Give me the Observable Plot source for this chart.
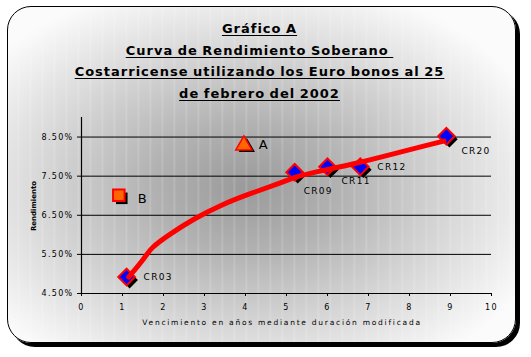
<!DOCTYPE html>
<html>
<head>
<meta charset="utf-8">
<script src="https://cdn.jsdelivr.net/npm/d3@7"></script>
<script src="https://cdn.jsdelivr.net/npm/@observablehq/plot@0.6"></script>
<style>
  html, body { margin: 0; padding: 0; background: #fff; }
  #wrap { position: relative; width: 531px; height: 357px; overflow: hidden; }
  #frame {
    position: absolute; left: 7px; top: 6px; width: 507px; height: 335px;
    border: 1px solid #000; border-radius: 24px 24px 24px 24px;
    box-shadow: 4px 4px 0 #000;
    background:
      repeating-linear-gradient(90deg, rgba(255,255,255,0) 0px, rgba(255,255,255,0) 9px, rgba(255,255,255,0.18) 10px, rgba(255,255,255,0) 12px),
      radial-gradient(ellipse 62% 64% at 47% 54%, #9a9a9a 0%, #b2b2b2 30%, #dadada 68%, #fbfbfb 100%);
  }
  #title {
    position: absolute; left: -6px; top: 18px; width: 531px; text-align: center;
    font-family: "DejaVu Sans", sans-serif; font-weight: bold; font-size: 13px;
    letter-spacing: 1px; word-spacing: -1px; line-height: 21.5px; color: #000;
  }
  #title span { text-decoration: underline; text-underline-offset: 2px; }
  #xlab {
    position: absolute; left: 0; top: 318px; width: 564px; text-align: center;
    font-family: "DejaVu Sans", sans-serif; font-size: 7.5px; letter-spacing: 1.75px;
  }
  #ylab {
    position: absolute; left: 34px; top: 206px; transform: translate(-50%, -50%) rotate(-90deg);
    font-family: "DejaVu Sans", sans-serif; font-weight: bold; font-size: 7px; white-space: nowrap;
  }
  #chart { position: absolute; left: 0; top: 0; }
</style>
</head>
<body>
<div id="wrap">
  <div id="frame"></div>
  <div id="title">
    <span>Gráfico A</span><br>
    <span>Curva de Rendimiento Soberano&nbsp;</span><br>
    <span>Costarricense utilizando los Euro bonos al 25</span><br>
    <span>de febrero del 2002</span>
  </div>
  <div id="chart"></div>
  <div id="xlab">Vencimiento en años mediante duración modificada</div>
  <div id="ylab">Rendimiento</div>
</div>
<script>
// Bonds (duration, yield %)
const bondNames = ["CR03", "CR09", "CR11", "CR12", "CR20"];
const bondX = [1.1, 5.2, 6.0, 6.8, 8.9];
const bondY = [4.92, 7.6, 7.74, 7.74, 8.52];

// Other points
const otherNames = ["A", "B"];
const otherX = [3.96, 0.91];
const otherY = [8.29, 7.01];

// Fitted curve
const curveX = [1.15, 1.56, 1.68, 2.17, 2.74, 3.39, 4.12, 4.93, 5.26, 5.91, 6.72, 7.54, 8.35, 8.84];
const curveY = [4.92, 5.43, 5.66, 6.03, 6.41, 6.76, 7.06, 7.35, 7.5, 7.65, 7.83, 8.05, 8.27, 8.4];

// Axis ticks
const xTicks = [0, 1, 2, 3, 4, 5, 6, 7, 8, 9, 10];
const yTicks = [4.5, 5.5, 6.5, 7.5, 8.5];

const bonds = bondNames.map((n, i) => ({name: n, x: bondX[i], y: bondY[i]}));
const curve = curveX.map((x, i) => ({x, y: curveY[i]}));
const ptA = [{name: otherNames[0], x: otherX[0], y: otherY[0]}];
const ptB = [{name: otherNames[1], x: otherX[1], y: otherY[1]}];
const lab = (names) => bonds.filter(d => names.includes(d.name));

const chart = Plot.plot({
  width: 531, height: 357,
  marginLeft: 81, marginRight: 40, marginTop: 117, marginBottom: 64,
  x: {domain: [0, 10]},
  y: {domain: [4.5, 9.0]},
  style: {background: "transparent", fontFamily: "DejaVu Sans, sans-serif", fontSize: "8px", color: "#000"},
  marks: [
    Plot.ruleY(yTicks.slice(1), {stroke: "#000", strokeWidth: 1, strokeOpacity: 1}),
    Plot.ruleX([0], {y1: 4.5, y2: 9.0, stroke: "#000", strokeWidth: 1.2}),
    Plot.ruleY([4.5], {stroke: "#000", strokeWidth: 1.2}),
    Plot.axisY({ticks: yTicks, tickFormat: d => d.toFixed(2) + "%", tickSize: 4, tickPadding: 4, label: null, fontSize: 8}),
    Plot.axisX({ticks: xTicks, tickSize: 3, tickPadding: 8, label: null, fontSize: 8}),
    // shadows
    Plot.dot(bonds, {x: "x", y: "y", symbol: "diamond2", r: 7.5, fill: "#000", dx: 3, dy: 3}),
    Plot.dot(ptB, {x: "x", y: "y", symbol: "square", r: 6.5, fill: "#000", dx: 3, dy: 3}),
    Plot.dot(ptA, {x: "x", y: "y", symbol: "triangle", r: 6, fill: "#000", dx: 3, dy: 2}),
    // markers
    Plot.dot(bonds, {x: "x", y: "y", symbol: "diamond2", r: 7.5, fill: "#0000ff", stroke: "#ff0000", strokeWidth: 2}),
    Plot.dot(ptB, {x: "x", y: "y", symbol: "square", r: 6.5, fill: "#ff6600", stroke: "#ff0000", strokeWidth: 2}),
    Plot.dot(ptA, {x: "x", y: "y", symbol: "triangle", r: 6, fill: "#ff6600", stroke: "#ff0000", strokeWidth: 1.5}),
    // curve
    Plot.line(curve, {x: "x", y: "y", stroke: "#ff0000", strokeWidth: 5, curve: "basis"}),
    // labels
    Plot.text(lab(["CR03", "CR12"]), {x: "x", y: "y", text: "name", textAnchor: "start", dx: 17, dy: 0, fontSize: 9}),
    Plot.text(lab(["CR09"]), {x: "x", y: "y", text: "name", textAnchor: "start", dx: 9, dy: 19, fontSize: 9}),
    Plot.text(lab(["CR11"]), {x: "x", y: "y", text: "name", textAnchor: "start", dx: 14, dy: 14, fontSize: 9}),
    Plot.text(lab(["CR20"]), {x: "x", y: "y", text: "name", textAnchor: "start", dx: 15, dy: 15, fontSize: 9}),
    Plot.text(ptA, {x: "x", y: "y", text: "name", textAnchor: "start", dx: 15, dy: 0, fontSize: 13}),
    Plot.text(ptB, {x: "x", y: "y", text: "name", textAnchor: "start", dx: 19, dy: 3, fontSize: 13})
  ]
});
chart.querySelectorAll("text").forEach(t => t.style.letterSpacing = "1.3px");
document.getElementById("chart").appendChild(chart);
</script>
</body>
</html>
